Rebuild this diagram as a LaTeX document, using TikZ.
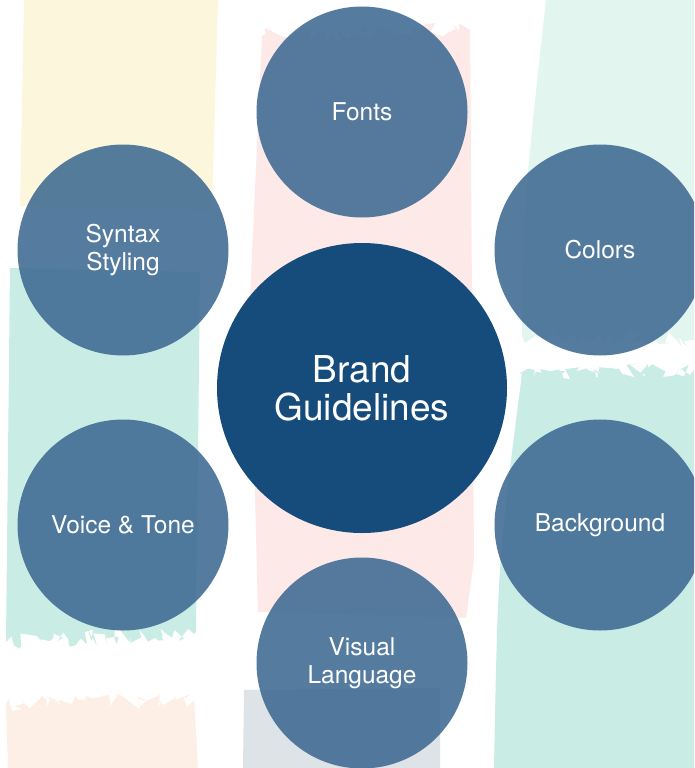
\documentclass[tikz,border=0pt]{standalone}
\usepackage{fontspec}
\setmainfont{TeX Gyre Heros}
\usetikzlibrary{positioning,decorations.pathmorphing}

\definecolor{yellowpaint}{HTML}{FCF6DC}
\definecolor{pinkpaint}{HTML}{FDE9E7}
\definecolor{mintpaint}{HTML}{C9EDE5}
\definecolor{mintlight}{HTML}{E2F5EE}
\definecolor{peachpaint}{HTML}{FDEFE5}
\definecolor{graypaint}{HTML}{DDE3E6}
\definecolor{topicblue}{HTML}{3E6A92}
\definecolor{hubblue}{HTML}{164C7C}

\begin{document}
\begin{tikzpicture}
                [%%%%%%%%%%%%%%%%%%%%%%%%%%%%%%%%%%%%%%%%%%%%%%%%%%%%%%%%%%
                    x=1pt,y=-1pt,
                    topic/.style={circle,fill=topicblue,fill opacity=.88,text opacity=1,
                                  text=white,inner sep=0pt,minimum size=211pt,align=center,
                                  font=\fontsize{24.5}{28}\selectfont},
                    hub/.style={circle,fill=hubblue,text=white,inner sep=0pt,
                                minimum size=290pt,align=center,font=\fontsize{37}{38}\selectfont},
                    rough/.style={decoration={random steps,segment length=3pt,amplitude=8pt}}
                ]%%%%%%%%%%%%%%%%%%%%%%%%%%%%%%%%%%%%%%%%%%%%%%%%%%%%%%%%%%
                \pgfmathsetseed{7}
                \clip (0,0) rectangle (694,768);
                \fill[white] (0,0) rectangle (694,768);

                % paint strokes behind
                \fill[yellowpaint] (24,0) -- (218,0) -- (212,210) -- (20,206) -- cycle;
                \fill[mintpaint] (10,268) -- (200,272) -- (196,632) decorate[rough] {-- (6,642)} -- cycle;
                \fill[peachpaint] (6,704) decorate[rough] {-- (194,700)} -- (198,768) -- (8,768) -- cycle;
                \fill[pinkpaint] (262,36) decorate[rough] {-- (470,30)} -- (474,560) -- (466,618) -- (258,612) -- (250,300) -- cycle;
                \fill[graypaint] (244,690) -- (440,688) -- (440,768) -- (243,768) -- cycle;
                \fill[mintlight] (546,0) -- (694,0) -- (694,340) decorate[rough] {-- (522,336)} .. controls (524,200) .. cycle;
                \fill[mintpaint] (522,374) decorate[rough] {-- (694,370)} -- (694,768) -- (494,768) .. controls (498,560) .. cycle;

                \node[hub] (brand) at (362,388) {Brand\\Guidelines};

                \node[topic] (fonts)      at (362,112) {Fonts};
                \node[topic] (colors)     at (600,250) {Colors};
                \node[topic] (background) at (600,525) {Background};
                \node[topic] (visual)     at (362,663) {Visual\\Language};
                \node[topic] (voice)      at (123,525) {Voice \& Tone};
                \node[topic] (syntax)     at (123,250) {Syntax\\Styling};
            \end{tikzpicture}
\end{document}
